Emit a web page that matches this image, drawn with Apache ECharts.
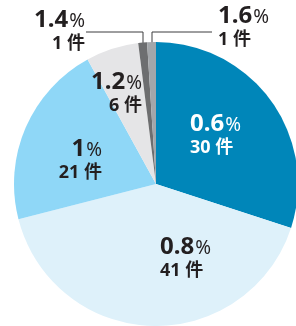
<!DOCTYPE html>
<html>
<head>
<meta charset="utf-8">
<script src="https://cdn.jsdelivr.net/npm/echarts@6/dist/echarts.min.js"></script>
<style>
  html, body { margin: 0; padding: 0; background: #fff; }
  #pie { width: 296px; height: 326px; }
</style>
</head>
<body>
<div id="pie"></div>
<script>
  // 件数と割合（時計回り、12時から）
  var counts = [30, 41, 21, 6, 1, 1]
  var rates = ['0.6', '0.8', '1', '1.2', '1.4', '1.6']
  var colors = ['#0086b9', '#def1fa', '#8fd7f7', '#e5e5e7', '#6d6e70', '#a3a6aa']

  // ラベルの置き場所 [x, y(中央), 揃え]
  var labelPos = [
    [190, 135, 'left'],
    [160, 258, 'left'],
    [102, 160, 'right'],
    [142, 93, 'right'],
    [85, 31, 'right'],
    [218, 27, 'left']
  ]
  var linePoints = {
    4: [[143, 46], [143, 32], [86, 32]],
    5: [[152, 46], [152, 32], [212, 32]]
  }

  var font = '"Noto Sans", "Noto Sans CJK JP", sans-serif'
  var myChart = echarts.init(document.getElementById('pie'))
  var option = {
    animation: false,
    series: [{
      type: 'pie',
      center: [156, 184],
      radius: 142,
      startAngle: 90,
      clockwise: true,
      silent: true,
      avoidLabelOverlap: false,
      data: counts.map(function (v, i) {
        var txt = i === 0 ? '#fff' : '#231f20'
        return {
          value: v,
          name: rates[i],
          itemStyle: { color: colors[i] },
          label: {
            show: true,
            position: i >= 4 ? 'outside' : 'inside',
            formatter: '{a|' + rates[i] + '}{b|%}\n{c|' + v + ' 件}',
            rich: {
              a: { fontFamily: font, fontSize: 24, fontWeight: 'bold', color: txt, lineHeight: 26 },
              b: { fontFamily: font, fontSize: 19, fontWeight: 'normal', color: txt, lineHeight: 26, padding: [3, 0, 0, 1] },
              c: { fontFamily: font, fontSize: 18, fontWeight: 'bold', color: txt, lineHeight: 21 }
            }
          },
          labelLine: {
            show: i >= 4,
            lineStyle: { color: '#3c3c3e', width: 1 }
          }
        }
      }),
      labelLayout: function (params) {
        var p = labelPos[params.dataIndex]
        var res = { x: p[0], y: p[1], align: p[2], verticalAlign: 'middle' }
        if (linePoints[params.dataIndex]) {
          res.labelLinePoints = linePoints[params.dataIndex]
        }
        return res
      }
    }]
  }
  myChart.setOption(option)
</script>
</body>
</html>
